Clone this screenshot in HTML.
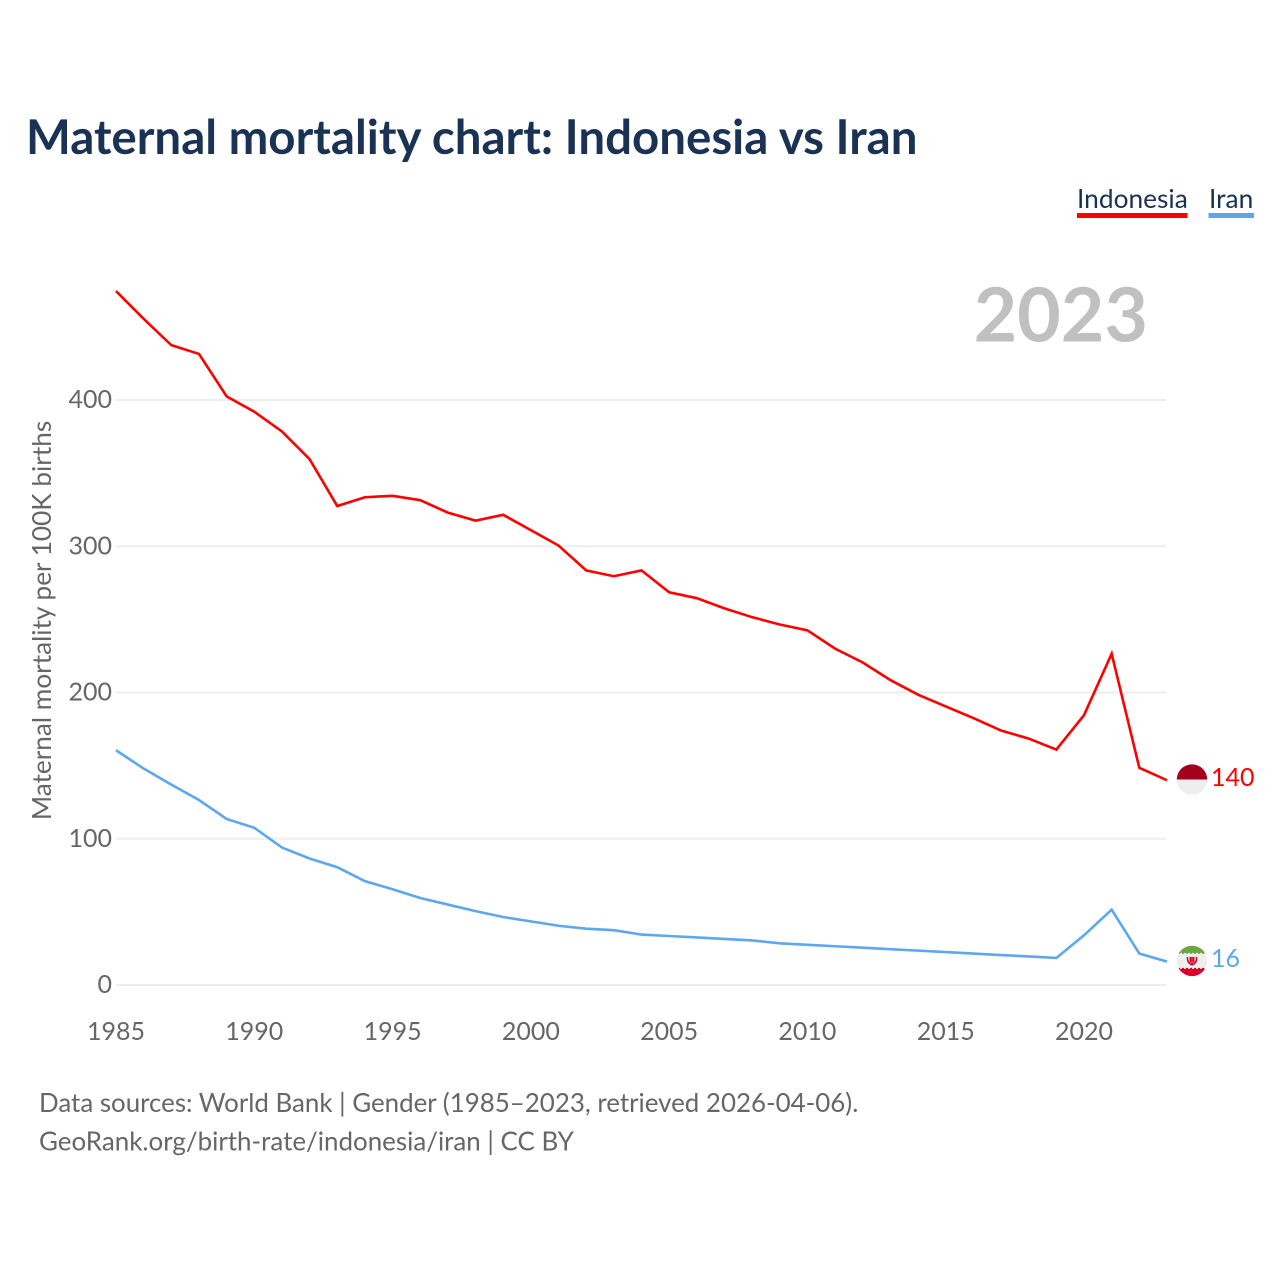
<!DOCTYPE html>
<html lang="en">
<head>
<meta charset="utf-8">
<title>Maternal mortality chart: Indonesia vs Iran</title>
<style>
html,body{margin:0;padding:0;background:#fff;}
#chart{display:block;width:1280px;height:1280px;}
text{font-family:Lato,Carlito,"Liberation Sans",sans-serif;}
</style>
</head>
<body>
<svg id="chart" xmlns="http://www.w3.org/2000/svg" width="1280" height="1280" viewBox="0 0 1280 1280">
  <rect x="0" y="0" width="1280" height="1280" fill="#ffffff"></rect>
  <text x="26" y="154" font-size="47.45" font-weight="700" fill="#1a3354">Maternal mortality chart: Indonesia vs Iran</text>

  <g>
    <g>
      <text x="1077" y="208" font-size="26.3" fill="#1a3354">Indonesia</text>
      <rect x="1077" y="213" width="110.5" height="5" fill="#ff0000"></rect>
    </g>
    <g>
      <text x="1209" y="208" font-size="26.3" fill="#1a3354">Iran</text>
      <rect x="1208.5" y="213" width="45.5" height="5" fill="#5ca7ee"></rect>
    </g>
  </g>

  <text x="1148" y="341.5" text-anchor="end" font-size="75.2" font-weight="700" fill="#c0c0c0">2023</text>

  <g id="grid"></g>
  <g id="yticks"></g>
  <g id="xticks"></g>
  <text transform="translate(51 620.5) rotate(-90)" text-anchor="middle" font-size="26.2" fill="#666666">Maternal mortality per 100K births</text>
  <g id="series"></g>

  <g id="flag-indonesia">
    <clipPath id="clip-id"><circle cx="0" cy="0" r="15.2"></circle></clipPath>
    <g clip-path="url(#clip-id)">
      <rect x="-16" y="-16" width="32" height="16" fill="#a2001d"></rect>
      <rect x="-16" y="0" width="32" height="16" fill="#eeeeee"></rect>
    </g>
  </g>
  <g id="flag-iran">
    <clipPath id="clip-ir"><circle cx="0" cy="0" r="15.2"></circle></clipPath>
    <g clip-path="url(#clip-ir)">
      <rect x="-16" y="-16" width="32" height="9" fill="#6da544"></rect>
      <rect x="-16" y="-7" width="32" height="14" fill="#eeeeee"></rect>
      <rect x="-16" y="7" width="32" height="9" fill="#d80027"></rect>
      <line x1="-16" x2="16" y1="-7" y2="-7" stroke="#eeeeee" stroke-width="2" stroke-dasharray="2 2"></line>
      <line x1="-16" x2="16" y1="7" y2="7" stroke="#eeeeee" stroke-width="2" stroke-dasharray="2 2"></line>
      <path d="M-4.5 -4 C-5 1 -2.5 3 0 4 C2.5 3 5 1 4.5 -4 M-1.7 -4 L-1.7 1.5 M1.7 -4 L1.7 1.5 M0 -4 L0 4" fill="none" stroke="#d80027" stroke-width="1.5"></path>
    </g>
  </g>

  <g id="end-labels"></g>

  <text x="39" y="1112" font-size="25.9" fill="#666666">Data sources: World Bank | Gender (1985–2023, retrieved 2026-04-06).</text>
  <text x="39" y="1150.5" font-size="25.95" fill="#666666">GeoRank.org/birth-rate/indonesia/iran | CC BY</text>
</svg>
<script>
const years = [1985,1986,1987,1988,1989,1990,1991,1992,1993,1994,1995,1996,1997,1998,1999,2000,2001,2002,2003,2004,2005,2006,2007,2008,2009,2010,2011,2012,2013,2014,2015,2016,2017,2018,2019,2020,2021,2022,2023];
const indonesiaValues = [474.5,455.5,437.5,431.5,402.5,392,378.5,359.5,327.5,333.5,334.5,331.5,323,317.5,321.5,311,300.5,283.5,279.5,283.5,268.5,264.5,257.5,251.5,246.5,242.5,230,220.5,208.5,198.5,190.5,182.5,174,168.5,161,184.5,226.5,148.5,140];
const iranValues = [160.5,148,137,126.5,113.5,107.5,94,86.5,80.5,71,65.5,59.5,55,50.5,46.5,43.5,40.5,38.5,37.5,34.5,33.5,32.5,31.5,30.5,28.5,27.5,26.5,25.5,24.5,23.5,22.5,21.5,20.5,19.5,18.5,34,51.5,21.5,16];
const yTickValues = [0,100,200,300,400];
const xTickValues = [1985,1990,1995,2000,2005,2010,2015,2020];

const NS = 'http://www.w3.org/2000/svg';
function xScale(year){ return 116 + (year - 1985) * (1084 - 116) / 35; }
function yScale(value){ return 985 - value * (985 - 400) / 400; }
function make(tag, parent){
  const el = document.createElementNS(NS, tag);
  parent.appendChild(el);
  return el;
}

const gridGroup = document.getElementById('grid');
const yTickGroup = document.getElementById('yticks');
yTickValues.forEach(function(v){
  const line = make('line', gridGroup);
  
  
  line.setAttribute('x1', 116);
  line.setAttribute('x2', 1166);
  line.setAttribute('y1', yScale(v));
  line.setAttribute('y2', yScale(v));
  line.setAttribute('stroke', '#eeeeee');
  line.setAttribute('stroke-width', 2);
  const label = make('text', yTickGroup);
  
  
  label.setAttribute('x', 112);
  label.setAttribute('y', yScale(v) + 8);
  label.setAttribute('text-anchor', 'end');
  label.setAttribute('font-size', 25);
  label.setAttribute('fill', '#666666');
  label.textContent = v;
});

const xTickGroup = document.getElementById('xticks');
xTickValues.forEach(function(y){
  const label = make('text', xTickGroup);
  
  
  label.setAttribute('x', xScale(y));
  label.setAttribute('y', 1040);
  label.setAttribute('text-anchor', 'middle');
  label.setAttribute('font-size', 25);
  label.setAttribute('fill', '#666666');
  label.textContent = y;
});

const seriesGroup = document.getElementById('series');
const labelGroup = document.getElementById('end-labels');
function drawSeries(values, color, lineName, labelName, flagId){
  const line = make('polyline', seriesGroup);
  
  
  line.setAttribute('points', values.map(function(v, i){ return xScale(years[i]) + ',' + yScale(v); }).join(' '));
  line.setAttribute('fill', 'none');
  line.setAttribute('stroke', color);
  line.setAttribute('stroke-width', 2.6);
  line.setAttribute('stroke-linejoin', 'miter');
  const last = values[values.length - 1];
  document.getElementById(flagId).setAttribute('transform', 'translate(1192 ' + (yScale(last) - 0.7) + ')');
  const label = make('text', labelGroup);
  
  
  label.setAttribute('x', 1211);
  label.setAttribute('y', yScale(last) + 5.5);
  label.setAttribute('font-size', 25);
  label.setAttribute('fill', color);
  label.textContent = last;
}
drawSeries(indonesiaValues, '#ff0000', 'indonesia-line', 'indonesia-end-value', 'flag-indonesia');
drawSeries(iranValues, '#5ca7ee', 'iran-line', 'iran-end-value', 'flag-iran');
</script>
</body>
</html>
